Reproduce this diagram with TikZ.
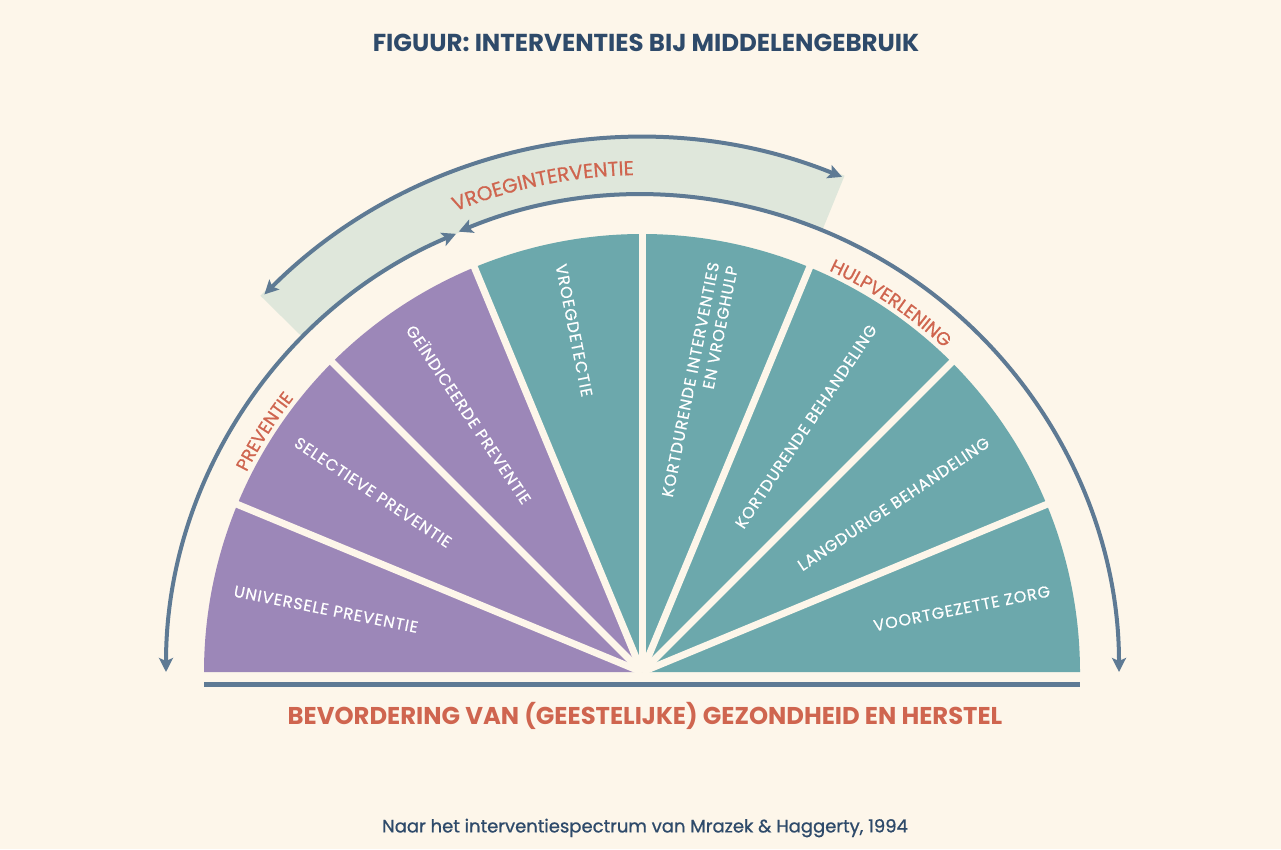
\documentclass[tikz,border=0pt]{standalone}
\usepackage{fontspec}
\setmainfont{Poppins}
\newfontfamily\labfont[LetterSpace=6,FakeBold=0.6]{Poppins}
\newfontfamily\medfont[LetterSpace=3,FakeBold=0.8]{Poppins}
\newfontfamily\srcfont[FakeBold=0.8]{Poppins}
\usetikzlibrary{arrows.meta,decorations.text}
\definecolor{bg}{HTML}{FDF6EA}
\definecolor{lila}{HTML}{9C87B8}
\definecolor{tealc}{HTML}{6CA8AC}
\definecolor{slate}{HTML}{5E7A94}
\definecolor{bandc}{HTML}{DFE7DB}
\definecolor{coral}{HTML}{CF654F}
\definecolor{navy}{HTML}{2E4A6A}
\begin{document}
\begin{tikzpicture}[x=1pt,y=1pt,
  tip/.tip={Stealth[length=14pt,width=14pt,inset=3pt]},
  arrowline/.style={draw=slate, line width=4pt, tip-tip},
  sepline/.style={draw=bg, line width=7pt},
  wlabel/.style={text=white, font=\labfont\fontsize{16}{19}\selectfont, inner sep=0pt},
  wedge/.style={fill=#1}
]
\fill[bg] (0,0) rectangle (1281,849);
\useasboundingbox (0,0) rectangle (1281,849);

\node[font=\bfseries\fontsize{24.5}{28}\selectfont, text=navy] (title) at (646,806) {FIGUUR: INTERVENTIES BIJ MIDDELENGEBRUIK};

\begin{scope}[shift={(642,177)}]
  % band behind the early-intervention arc
  \fill[bandc] (135.4:476pt) arc[start angle=135.4, end angle=67.8, radius=476pt]
     -- (67.8:536pt) arc[start angle=67.8, end angle=135.4, radius=536pt] -- cycle;
  % wedges
  \foreach \a/\c in {180/lila,157.5/lila,135/lila,112.5/tealc,90/tealc,67.5/tealc,45/tealc,22.5/tealc}{
    \fill[wedge=\c] (0,0) -- (\a:438pt) arc[start angle=\a, delta angle=-22.5, radius=438pt] -- cycle;
  }
  % separators
  \foreach \a in {22.5,45,67.5,90,112.5,135,157.5}{
    \draw[sepline] (0,0) -- (\a:446pt);
  }
  % arcs
  \draw[arrowline] (180:476pt) arc[start angle=180, end angle=113, radius=476pt];
  \draw[arrowline] (112.6:477pt) arc[start angle=112.6, end angle=0, radius=477pt];
  \draw[arrowline] (135:534pt) arc[start angle=135, end angle=68, radius=534pt];
  % curved labels
  \path[decorate, decoration={text along path, text align=center, text color=coral,
      text={|\medfont\fontsize{20}{23}\selectfont|VROEGINTERVENTIE}}]
      (125:497pt) arc[start angle=125, end angle=78, radius=497pt];
  \path[decorate, decoration={text along path, text align=center, text color=coral,
      text={|\medfont\fontsize{18}{21}\selectfont|PREVENTIE}}]
      (165:443pt) arc[start angle=165, end angle=130, radius=443pt];
  \path[decorate, decoration={text along path, text align=center, text color=coral,
      text={|\medfont\fontsize{18.5}{21}\selectfont|HULPVERLENING}}]
      (75:443pt) arc[start angle=75, end angle=37, radius=443pt];
  % wedge labels
  \node[wlabel, anchor=west, rotate=-11.25] (l1) at (168.75:416pt) {UNIVERSELE PREVENTIE};
  \node[wlabel, anchor=west, rotate=-33.75] (l2) at (146.25:416pt) {SELECTIEVE PREVENTIE};
  \node[wlabel, anchor=west, rotate=-56.25] (l3) at (123.75:416pt) {GEÏNDICEERDE PREVENTIE};
  \node[wlabel, anchor=west, rotate=-78.75] (l4) at (101.25:416pt) {VROEGDETECTIE};
  \node[wlabel, anchor=east, rotate=78.75, align=right] (l5) at (78.75:416pt) {KORTDURENDE INTERVENTIES\\EN VROEGHULP};
  \node[wlabel, anchor=east, rotate=56.25] (l6) at (56.25:416pt) {KORTDURENDE BEHANDELING};
  \node[wlabel, anchor=east, rotate=33.75] (l7) at (33.75:416pt) {LANGDURIGE BEHANDELING};
  \node[wlabel, anchor=east, rotate=11.25] (l8) at (11.25:416pt) {VOORTGEZETTE ZORG};
\end{scope}

\coordinate (baseL) at (204,164.5);
\coordinate (baseR) at (1080,164.5);
\draw[slate, line width=5pt] (baseL) -- (baseR);

\node[font=\bfseries\fontsize{24.3}{28}\selectfont, text=coral] (goal) at (645,133) {BEVORDERING VAN (GEESTELIJKE) GEZONDHEID EN HERSTEL};
\node[font=\srcfont\fontsize{18}{21}\selectfont, text=navy] (src) at (645,21) {Naar het interventiespectrum van Mrazek \& Haggerty, 1994};
\end{tikzpicture}
\end{document}
